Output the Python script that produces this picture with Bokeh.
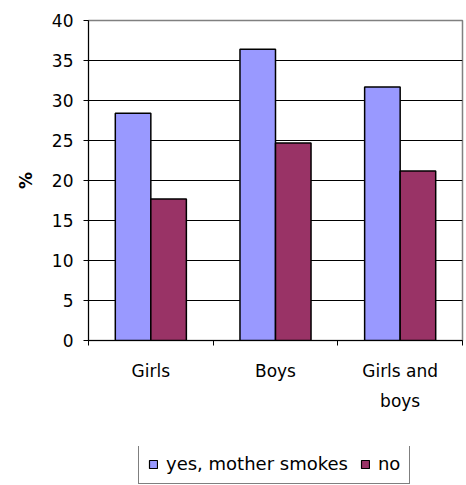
from bokeh.plotting import figure
from bokeh.layouts import column
from bokeh.models import ColumnDataSource, FixedTicker, Range1d, Legend, LegendItem
from bokeh.transform import dodge
from bokeh.embed import file_html
from bokeh.resources import INLINE

# Share of children by mother's smoking status
groups = ["Girls", "Boys", "Girls and\nboys"]
yes_mother_smokes = [28.4, 36.4, 31.7]
no = [17.7, 24.7, 21.2]
y_ticks = [0, 5, 10, 15, 20, 25, 30, 35, 40]
series_labels = ["yes, mother smokes", "no"]

FONT = "DejaVu Sans"
FS = "17px"
BLUE = "#9999FF"
MAROON = "#993366"
BAR_W = 0.285

centers = [i + 0.5 for i in range(len(groups))]
src = ColumnDataSource(dict(x=centers, yes=yes_mother_smokes, no=no))

p = figure(width=466, height=446, output_backend="svg", toolbar_location=None,
           x_range=Range1d(0, len(groups)), y_range=Range1d(0, 40),
           min_border_left=88, min_border_right=4, min_border_top=20,
           min_border_bottom=106)

p.vbar(x=dodge("x", -BAR_W / 2), top="yes", width=BAR_W, source=src,
       fill_color=BLUE, line_color="black", line_width=1.5)
p.vbar(x=dodge("x", BAR_W / 2), top="no", width=BAR_W, source=src,
       fill_color=MAROON, line_color="black", line_width=1.5)

# Frame and grid
p.outline_line_color = "#808080"
p.outline_line_width = 1.5
p.background_fill_color = "white"
p.border_fill_color = "white"
p.xgrid.grid_line_color = None
p.ygrid.ticker = FixedTicker(ticks=y_ticks[1:-1])
p.ygrid.grid_line_color = "black"
p.ygrid.grid_line_width = 1

# Y axis
p.yaxis.ticker = FixedTicker(ticks=y_ticks)
p.yaxis.axis_line_color = "black"
p.yaxis.major_tick_line_color = "black"
p.yaxis.major_tick_out = 5
p.yaxis.major_tick_in = 0
p.yaxis.minor_tick_line_color = None
p.yaxis.major_label_text_font = FONT
p.yaxis.major_label_text_font_size = FS
p.yaxis.major_label_text_color = "black"
p.yaxis.major_label_standoff = 10
p.yaxis.axis_label = "%"
p.yaxis.axis_label_text_font = FONT
p.yaxis.axis_label_text_font_size = FS
p.yaxis.axis_label_text_font_style = "bold"
p.yaxis.axis_label_text_color = "black"
p.yaxis.axis_label_standoff = 13

# X axis: labels at category centres, tick marks at category boundaries
p.xaxis.ticker = FixedTicker(ticks=centers, minor_ticks=list(range(len(groups) + 1)))
p.xaxis.major_label_overrides = {c: g for c, g in zip(centers, groups)}
p.xaxis.major_tick_out = 0
p.xaxis.major_tick_in = 0
p.xaxis.minor_tick_out = 5
p.xaxis.minor_tick_in = 0
p.xaxis.minor_tick_line_color = "black"
p.xaxis.axis_line_color = "black"
p.xaxis.major_label_text_font = FONT
p.xaxis.major_label_text_font_size = FS
p.xaxis.major_label_text_color = "black"
p.xaxis.major_label_text_line_height = 1.5
p.xaxis.major_label_standoff = 15

# Legend strip under the chart (hidden key renderers supply the swatches)
leg = figure(width=466, height=39, output_backend="svg", toolbar_location=None,
             x_axis_type=None, y_axis_type=None, min_border=0,
             outline_line_color=None, x_range=Range1d(0, 1), y_range=Range1d(0, 1))
leg.grid.grid_line_color = None
k_yes = leg.vbar(x=[0.5], top=[0], width=BAR_W, fill_color=BLUE,
                 line_color="black", line_width=1.2, visible=False)
k_no = leg.vbar(x=[0.5], top=[0], width=BAR_W, fill_color=MAROON,
                line_color="black", line_width=1.2, visible=False)
legend = Legend(items=[LegendItem(label=series_labels[0], renderers=[k_yes]),
                       LegendItem(label=series_labels[1], renderers=[k_no])],
                orientation="horizontal", location=(50, 1),
                glyph_width=10, glyph_height=10, label_standoff=8, spacing=12,
                padding=9, margin=0, label_height=20,
                label_text_font=FONT, label_text_font_size="18px",
                label_text_color="black", border_line_color="black",
                border_line_width=1, background_fill_color="white",
                background_fill_alpha=1)
leg.add_layout(legend, "center")

open("out.html", "w").write(file_html(column(p, leg, spacing=0), INLINE))
